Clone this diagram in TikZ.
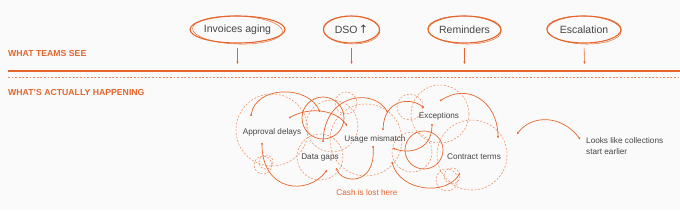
\documentclass[tikz,border=0pt]{standalone}
\usepackage{fontspec}
\setmainfont{Liberation Sans}
\newfontfamily\symfont{DejaVu Sans}
\usetikzlibrary{arrows.meta,shapes.geometric}
\definecolor{org}{HTML}{E5652C}
\definecolor{orgl}{HTML}{EC8E62}
\definecolor{txt}{HTML}{454545}
\definecolor{bg}{HTML}{FAFAFA}
\tikzset{
  ovalnode/.style={ellipse,draw=org,line width=1.1pt,inner sep=0pt,minimum height=27pt,text=txt,font=\fontsize{10.5}{12}\selectfont},
  ovalextra/.style={draw=org,line width=0.45pt},
  downarrow/.style={draw=org,line width=0.6pt,-{Stealth[length=2.6pt,width=2.4pt]}},
  header/.style={anchor=west,text=org,font=\bfseries\fontsize{8.7}{10}\selectfont,inner sep=0pt},
  lbl/.style={text=txt,font=\fontsize{8.2}{11}\selectfont,inner sep=1pt},
  dcirc/.style={draw=orgl,line width=0.55pt,dash pattern=on 2pt off 1.6pt},
  scirc/.style={draw=org,line width=0.7pt},
  sarc/.style={draw=org,line width=0.7pt,{Circle[length=1.8pt]}-{Stealth[length=2.4pt,width=2.4pt]}},
}
\begin{document}
\begin{tikzpicture}[x=1pt,y=-1pt]
\fill[bg] (0,0) rectangle (680,210);
\useasboundingbox (0,0) rectangle (680,210);
% ovals
\node[ovalnode,minimum width=89pt] (inv) at (237.5,29.5) {Invoices aging};
\node[ovalnode,minimum width=56pt] (dso) at (351.5,29.5) {DSO\kern1pt{\symfont\fontsize{11.5}{12}\selectfont ↑}};
\node[ovalnode,minimum width=73pt] (rem) at (464.5,29.5) {Reminders};
\node[ovalnode,minimum width=74pt] (esc) at (584,29.5) {Escalation};
\draw[ovalextra,rotate around={-2:(237.5,30)}] (237.5,30) ellipse (45 and 14);
\draw[ovalextra,rotate around={-2:(351.5,30)}] (351.5,30) ellipse (28.4 and 14);
\draw[ovalextra,rotate around={-2:(464.5,30)}] (464.5,30) ellipse (36.8 and 14);
\draw[ovalextra,rotate around={-2:(584,30)}] (584,30) ellipse (37.3 and 14);
% arrow targets
\coordinate (invT) at (237.5,64);
\coordinate (dsoT) at (351.5,64);
\coordinate (remT) at (464.5,64);
\coordinate (escT) at (584.5,64);
\draw[downarrow,shorten <=4pt] (inv.south) -- (invT);
\draw[downarrow,shorten <=4pt] (dso.south) -- (dsoT);
\draw[downarrow,shorten <=4pt] (rem.south) -- (remT);
\draw[downarrow,shorten <=4pt] (esc.south) -- (escT);
% headers and lines
\node[header] (h1) at (8,53) {WHAT TEAMS SEE};
\node[header] (h2) at (8,92) {WHAT’S ACTUALLY HAPPENING};
\coordinate (l1a) at (8,71); \coordinate (l1b) at (680,71);
\coordinate (l2a) at (8,77.5); \coordinate (l2b) at (680,77.5);
\draw[org,line width=1.8pt] (l1a) -- (l1b);
\draw[orgl,line width=0.6pt,dash pattern=on 1.8pt off 1.8pt] (l2a) -- (l2b);
% dashed circles
\draw[dcirc] (272,130) circle (36);
\draw[dcirc] (263,165) circle (9);
\draw[dcirc] (266,162) circle (7);
\draw[dcirc] (346,103) circle (11);
\draw[dcirc] (320,157) circle (23);
\draw[dcirc] (332,126) circle (26);
\draw[dcirc] (366,140) circle (36);
\draw[dcirc] (410,107) circle (13);
\draw[dcirc] (440,114) circle (29);
\draw[dcirc] (412,152) circle (20);
\draw[dcirc] (472,155) circle (35);
\draw[dcirc] (447,180) circle (11);
\draw[dcirc] (452,176) circle (8);
% solid circles
\draw[scirc] (323,118) circle (21);
\draw[scirc] (424,150) circle (19);
% labels
\node[lbl] (ad) at (272,132) {Approval delays};
\node[lbl] (dg) at (320,158) {Data gaps};
\node[lbl] (um) at (375,139) {Usage mismatch};
\node[lbl] (ex) at (439,116) {Exceptions};
\node[lbl] (ct) at (474,157) {Contract terms};
\node[lbl,text=org] (cash) at (367,193) {Cash is lost here};
\node[lbl,anchor=west,align=left,inner sep=0pt] (lk) at (586,146) {Looks like collections\\start earlier};
% solid arcs
\coordinate (a1) at (251,116); \coordinate (a2) at (320,112);
\draw[sarc] (a1) .. controls (255,86) and (308,84) .. (a2);
\coordinate (b1) at (289,118); \coordinate (b2) at (347,126);
\draw[sarc] (b1) .. controls (310,106) and (337,110) .. (b2);
\coordinate (c1) at (262,143); \coordinate (c2) at (327,170);
\draw[sarc] (c1) .. controls (262,192) and (308,196) .. (c2);
\coordinate (d1) at (323,142); \coordinate (d2) at (388,113);
\draw[sarc] (d1) .. controls (325,92) and (375,88) .. (d2);
\coordinate (e1) at (373,146); \coordinate (e2) at (336,168);
\draw[sarc] (e1) .. controls (376,186) and (342,184) .. (e2);
\coordinate (f1) at (383,130); \coordinate (f2) at (424,108);
\draw[sarc] (f1) .. controls (384,100) and (410,96) .. (f2);
\coordinate (g1) at (432,124); \coordinate (g2) at (393,148);
\draw[sarc] (g1) .. controls (432,152) and (406,154) .. (g2);
\coordinate (h1c) at (392,162); \coordinate (h2c) at (460,173);
\draw[sarc] (h1c) .. controls (400,192) and (447,196) .. (h2c);
\coordinate (i1) at (440,101); \coordinate (i2) at (498,138);
\draw[sarc] (i1) .. controls (468,82) and (498,102) .. (i2);
\coordinate (j1) at (580,139); \coordinate (j2) at (517,134);
\draw[sarc] (j1) .. controls (562,115) and (532,114) .. (j2);
\end{tikzpicture}
\end{document}
